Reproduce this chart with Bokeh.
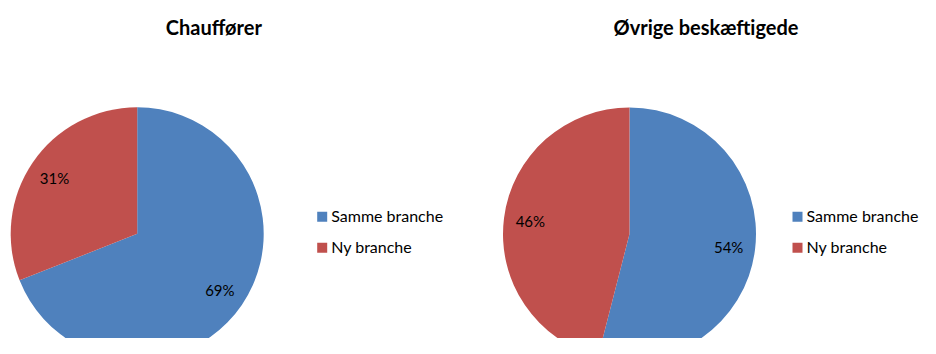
import numpy as np
from bokeh.plotting import figure
from bokeh.models import Range1d
from bokeh.core.properties import value
from bokeh.embed import file_html
from bokeh.resources import INLINE

# ---- data ----
titles = ["Chauffører", "Øvrige beskæftigede"]
categories = ["Samme branche", "Ny branche"]
chauffoerer = [69, 31]
oevrige = [54, 46]
series = [chauffoerer, oevrige]
colors = ["#4F81BD", "#C0504D"]

FONT = "Lato"
W, H = 920, 338
p = figure(width=W, height=H, output_backend="svg", toolbar_location=None,
           x_range=Range1d(0, W), y_range=Range1d(0, H),
           min_border=0, outline_line_color=None,
           background_fill_color="white", border_fill_color="white")
p.axis.visible = False
p.grid.visible = False

def Y(ys):  # pixel row from top -> data y
    return H - ys

R = 126.5
centers = [(136.7, 233.3), (629.0, 233.5)]
title_x = [213.3, 705.5]
legend_x = [321.7, 797.0]

for (cx, cy), vals, title, tx, lx in zip(centers, series, titles, title_x, legend_x):
    v = np.array(vals, dtype=float)
    frac = v / v.sum()
    cum = np.concatenate([[0], np.cumsum(frac)])
    # clockwise from 12 o'clock
    for i in range(len(v)):
        a_start = np.pi / 2 - 2 * np.pi * cum[i + 1]
        a_end = np.pi / 2 - 2 * np.pi * cum[i]
        p.wedge(x=cx, y=Y(cy), radius=R, start_angle=a_start, end_angle=a_end,
                fill_color=colors[i], line_color=None)
        mid = (a_start + a_end) / 2
        lr = 0.79 * R
        p.text(x=cx + lr * np.cos(mid), y=Y(cy) + lr * np.sin(mid),
               text=[f"{int(vals[i])}%"], text_font=value(FONT), text_font_size="15px",
               text_color="#000000", text_align="center", text_baseline="middle")
    p.text(x=tx, y=Y(26), text=[title], text_font=value(FONT), text_font_size="20px",
           text_font_style="bold", text_color="#000000",
           text_align="center", text_baseline="middle")
    for i, cat in enumerate(categories):
        ly = 216.3 + 31 * i
        p.rect(x=lx, y=Y(ly), width=10, height=10, fill_color=colors[i], line_color=None)
        p.text(x=lx + 9, y=Y(ly - 1), text=[cat], text_font=value(FONT), text_font_size="16px",
               text_color="#000000", text_align="left", text_baseline="middle")

open("out.html", "w").write(file_html(p, INLINE))
